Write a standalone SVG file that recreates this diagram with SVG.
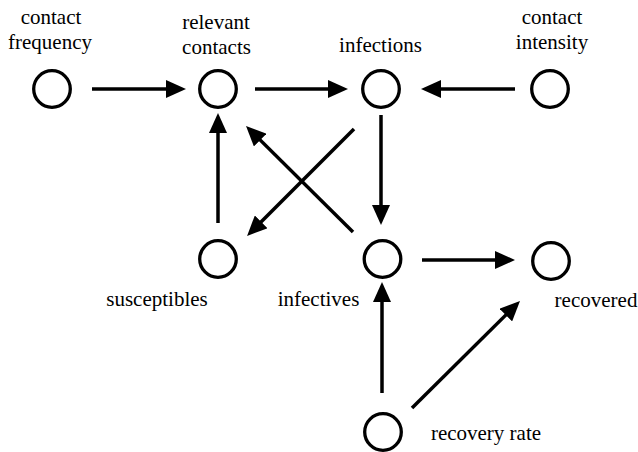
<svg xmlns="http://www.w3.org/2000/svg" width="638" height="452" viewBox="0 0 638 452">
<style>
.node circle{fill:none;stroke:#000;stroke-width:3.3}
.lbl{font-family:"Liberation Serif","Times New Roman",serif;font-size:21px;fill:#000;text-anchor:middle}
.edges line{stroke:#000;stroke-width:3.5;marker-end:url(#ah)}
</style>
<defs>
<marker id="ah" markerUnits="userSpaceOnUse" markerWidth="20" markerHeight="18" viewBox="0 0 20 18" refX="12" refY="9" orient="auto">
<path d="M0,0 L20,9 L0,18 z" fill="#000"/>
</marker>
</defs>
<rect width="638" height="452" fill="#fff"/>
<g class="edges">
<line x1="92" y1="89" x2="178" y2="89"/>
<line x1="255" y1="89" x2="340" y2="89"/>
<line x1="515" y1="89" x2="429" y2="89"/>
<line x1="381" y1="115" x2="381" y2="217"/>
<line x1="218" y1="223" x2="218" y2="121"/>
<line x1="353" y1="232" x2="251.7" y2="131.6"/>
<line x1="354" y1="129" x2="252.7" y2="230.3"/>
<line x1="422" y1="260" x2="507" y2="260"/>
<line x1="382" y1="393" x2="382" y2="290"/>
<line x1="412" y1="408" x2="514.3" y2="306.6"/>
</g>
<g id="contact-frequency" class="node"><circle cx="52" cy="89" r="18.3"/><text class="lbl" x="51" y="23.5">contact</text><text class="lbl" x="50" y="48.5">frequency</text></g>
<g id="relevant-contacts" class="node"><circle cx="218" cy="89" r="18.3"/><text class="lbl" x="216" y="28.5">relevant</text><text class="lbl" x="216.5" y="53.5">contacts</text></g>
<g id="infections" class="node"><circle cx="381" cy="89" r="18.3"/><text class="lbl" x="380.5" y="52">infections</text></g>
<g id="contact-intensity" class="node"><circle cx="550" cy="89" r="18.3"/><text class="lbl" x="552" y="23.5">contact</text><text class="lbl" x="552" y="48.5">intensity</text></g>
<g id="susceptibles" class="node"><circle cx="218" cy="259" r="18.3"/><text class="lbl" x="157" y="306">susceptibles</text></g>
<g id="infectives" class="node"><circle cx="382.5" cy="259" r="18.3"/><text class="lbl" x="318.5" y="306">infectives</text></g>
<g id="recovered" class="node"><circle cx="551" cy="261" r="18.3"/><text class="lbl" x="596" y="307">recovered</text></g>
<g id="recovery-rate" class="node"><circle cx="383" cy="432" r="18.3"/><text class="lbl" x="486" y="440">recovery rate</text></g>
</svg>
